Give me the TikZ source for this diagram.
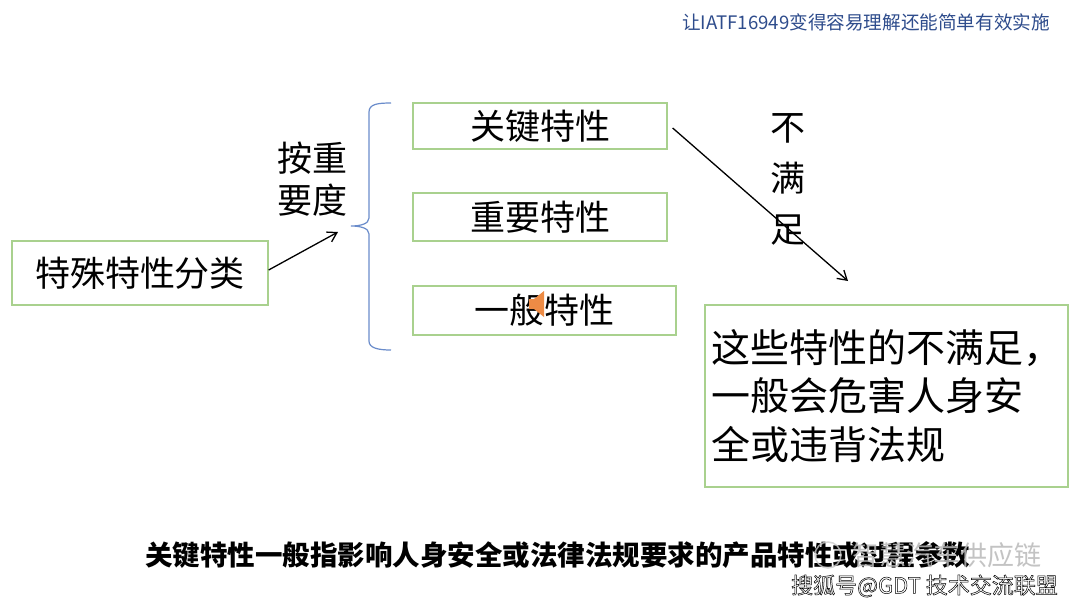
\documentclass[tikz,border=0pt]{standalone}
\usepackage{fontspec}
\newfontfamily\cjk{Noto Sans CJK SC}
\usetikzlibrary{arrows.meta}
\definecolor{boxgreen}{HTML}{A9D18E}
\definecolor{braceblue}{HTML}{6A8CCB}
\definecolor{headblue}{HTML}{2E4C8C}
\definecolor{iconorange}{HTML}{ED8B45}
\begin{document}
\begin{tikzpicture}[x=1pt,y=-1pt,
  box/.style={draw=boxgreen, line width=1.3pt, inner sep=0pt, font=\cjk\fontsize{35}{42}\selectfont},
  txt/.style={inner sep=0pt},
  arr/.style={line width=1.3pt, -{Straight Barb[length=9pt,width=11pt]}}]
\useasboundingbox (0,0) rectangle (1080,608);
\fill[white] (0,0) rectangle (1080,608);

% header
\node[txt, anchor=east, text=headblue, font=\cjk\fontsize{18.6}{21}\selectfont] (hdr) at (1050,22) {让IATF16949变得容易理解还能简单有效实施};

% left box and label
\node[box, minimum width=256pt, minimum height=64pt] (cls) at (140,273) {特殊特性分类};
\node[txt, align=center, font=\cjk\fontsize{35}{42}\selectfont] (imp) at (312,179) {按重\\要度};
\coordinate (bt) at (338,232);
\draw[arr] ([yshift=3pt]cls.east) -- (bt);

% brace
\draw[braceblue, line width=1.2pt] (391,103) .. controls (378,103) and (369,104) .. (369,112) -- (369,218)
  .. controls (369,224) and (360,226) .. (351,226) .. controls (360,226) and (369,228) .. (369,234)
  -- (369,341) .. controls (369,348) and (378,350) .. (391,350);

% three category boxes
\node[box, minimum width=254pt, minimum height=46pt] (key) at (540,126) {关键特性};
\node[box, minimum width=254pt, minimum height=48pt] (imp2) at (540,217) {重要特性};
\node[box, minimum width=263pt, minimum height=49pt] (gen) at (544.5,310.5) {一般特性};
\fill[iconorange] (529,299) -- (534,299) -- (544,291) -- (544,317) -- (534,309) -- (529,309) -- cycle;

% not satisfied arrow
\node[txt, align=center, font=\cjk\fontsize{35}{51}\selectfont] (nf) at (788,179) {不\\满\\足};
\coordinate (nfend) at (848,281);
\draw[arr] ([xshift=5pt,yshift=-2pt]key.east) -- (nfend);

% result box
\node[box, minimum width=363pt, minimum height=182pt, align=left, font=\cjk\fontsize{39}{48.5}\selectfont] (res) at (886.5,396) {这些特性的不满足，\\一般会危害人身安\\全或违背法规};

% bottom note
\node[txt, anchor=west, font=\cjk\bfseries\fontsize{27.5}{30}\selectfont] (note) at (145,555) {关键特性一般指影响人身安全或法律法规要求的产品特性或过程参数};
\draw[gray!40, line width=1.5pt, opacity=0.8] (828,555) circle (13);
\node[txt, anchor=west, text=gray!55, opacity=0.85, font=\cjk\fontsize{27}{30}\selectfont] (wm) at (852,555) {智慧汽车供应链};
\node[txt, anchor=east, text=white, font=\cjk\fontsize{22}{26}\selectfont] (src) at (1058,586) {\special{pdf:literal direct 0 G 2 Tr 0.5 w}搜狐号@GDT 技术交流联盟\special{pdf:literal direct 0 Tr}};
\end{tikzpicture}
\end{document}
